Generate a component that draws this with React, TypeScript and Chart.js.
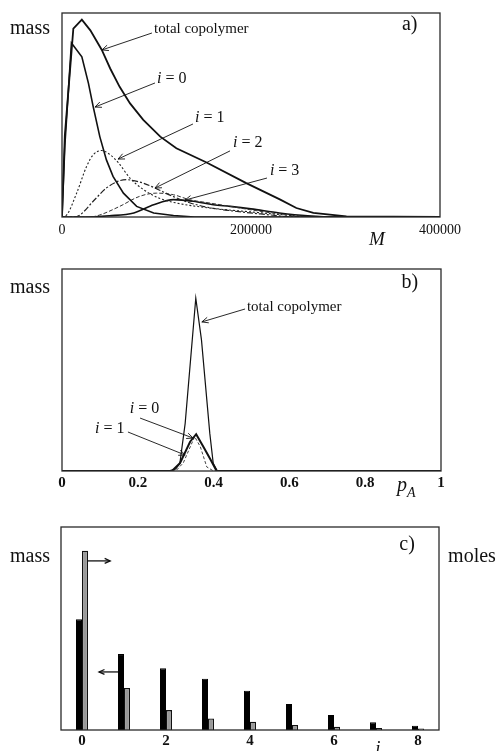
import React, { useEffect, useRef } from 'react';
import { Chart, registerables } from 'chart.js';
Chart.register(...registerables);

const SERIF = '"Liberation Serif", "Times New Roman", "DejaVu Serif", serif';

// ---------- Panel a: mass distribution vs molecular weight M ----------
const aTotalM = [0, 3000, 12000, 21000, 30000, 42000, 51000, 61000, 72000, 86000, 104000, 121000, 153000, 195000, 231000, 248000, 266000, 301000, 400000];
const aTotalMass = [0, 0.4, 0.923, 0.967, 0.915, 0.82, 0.728, 0.638, 0.557, 0.476, 0.394, 0.337, 0.267, 0.166, 0.085, 0.044, 0.02, 0.003, 0];
const aI0M = [0, 3000, 10000, 21000, 28000, 33000, 40000, 47000, 54000, 65000, 79000, 97000, 118000, 140000, 400000];
const aI0Mass = [0, 0.35, 0.853, 0.785, 0.655, 0.541, 0.394, 0.28, 0.199, 0.117, 0.052, 0.02, 0.007, 0, 0];
const aI1M = [0, 5000, 15500, 26000, 33000, 42000, 51000, 60000, 72000, 86000, 104000, 125000, 146000, 175000, 200000, 230000, 260000, 290000, 400000];
const aI1Mass = [0, 0.01, 0.117, 0.248, 0.305, 0.326, 0.305, 0.264, 0.19, 0.135, 0.09, 0.065, 0.05, 0.035, 0.025, 0.012, 0.003, 0, 0];
const aI2M = [0, 12000, 19000, 33000, 47000, 61000, 68000, 76000, 86000, 97000, 118000, 135000, 157000, 180000, 210000, 250000, 400000];
const aI2Mass = [0, 0, 0.01, 0.077, 0.142, 0.178, 0.183, 0.178, 0.166, 0.145, 0.1, 0.07, 0.045, 0.03, 0.015, 0, 0];
const aI3M = [0, 30000, 40000, 61000, 82000, 100000, 118000, 135000, 157000, 178000, 200000, 230000, 260000, 400000];
const aI3Mass = [0, 0, 0.01, 0.052, 0.101, 0.117, 0.109, 0.085, 0.068, 0.052, 0.035, 0.015, 0, 0];
const aI4M = [0, 22000, 50000, 76000, 97000, 118000, 139000, 160000, 178000, 200000, 230000, 260000, 290000, 400000];
const aI4Mass = [0, 0, 0.006, 0.02, 0.06, 0.085, 0.077, 0.06, 0.052, 0.04, 0.02, 0.006, 0, 0];

// ---------- Panel b: mass distribution vs composition pA ----------
const bTotalP = [0, 0.28, 0.3, 0.311, 0.325, 0.353, 0.368, 0.39, 0.399, 0.41, 1];
const bTotalMass = [0, 0, 0.01, 0.038, 0.236, 0.855, 0.649, 0.186, 0.038, 0, 0];
const bI0P = [0, 0.29, 0.311, 0.338, 0.354, 0.373, 0.39, 0.408, 1];
const bI0Mass = [0, 0, 0.038, 0.145, 0.182, 0.12, 0.063, 0, 0];
const bI1P = [0, 0.3, 0.32, 0.35, 0.365, 0.382, 0.4, 1];
const bI1Mass = [0, 0, 0.04, 0.17, 0.12, 0.02, 0, 0];

// ---------- Panel c: mass (black) and moles (grey) per i ----------
const cCategories = ['0', '1', '2', '3', '4', '5', '6', '7', '8'];
const cMass = [0.545, 0.374, 0.304, 0.252, 0.193, 0.128, 0.074, 0.038, 0.021];
const cMoles = [0.883, 0.207, 0.098, 0.057, 0.041, 0.025, 0.016, 0.01, 0.008];
const cShownTicks = ['0', '2', '4', '6', '8'];

type Part = { t: string; it?: boolean; sub?: boolean };
type Note = { parts: Part[]; x: number; y: number; size: number; align?: 'left' | 'center' };
type Outer = { parts: Part[]; ax: 'left' | 'right'; dx: number; ay: 'top' | 'bottom'; dy: number; size: number; align?: 'left' | 'center' };
type Arrow = { x1: number; y1: number; x2: number; y2: number; head?: number; width?: number };

const pts = (xs: number[], ys: number[]) => xs.map((x, i) => ({ x, y: ys[i] }));
const I = (n: string): Part[] => [{ t: 'i', it: true }, { t: ' = ' + n }];

function partFont(p: Part, size: number) {
  const s = p.sub ? Math.round(size * 0.68) : size;
  return `${p.it ? 'italic ' : ''}${s}px ${SERIF}`;
}

function drawParts(ctx: CanvasRenderingContext2D, parts: Part[], x: number, y: number, size: number, align: 'left' | 'center' = 'left') {
  const widths = parts.map((p) => {
    ctx.font = partFont(p, size);
    return ctx.measureText(p.t).width;
  });
  const total = widths.reduce((a, b) => a + b, 0);
  let cx = align === 'center' ? x - total / 2 : x;
  ctx.textAlign = 'left';
  ctx.textBaseline = 'middle';
  parts.forEach((p, i) => {
    ctx.font = partFont(p, size);
    ctx.fillText(p.t, cx, y + (p.sub ? size * 0.35 : 0));
    cx += widths[i];
  });
}

function drawArrow(ctx: CanvasRenderingContext2D, x1: number, y1: number, x2: number, y2: number, head: number, width: number) {
  ctx.lineWidth = width;
  ctx.beginPath();
  ctx.moveTo(x1, y1);
  ctx.lineTo(x2, y2);
  ctx.stroke();
  const ang = Math.atan2(y2 - y1, x2 - x1);
  const spread = 0.42;
  ctx.beginPath();
  ctx.moveTo(x2 - head * Math.cos(ang - spread), y2 - head * Math.sin(ang - spread));
  ctx.lineTo(x2, y2);
  ctx.lineTo(x2 - head * Math.cos(ang + spread), y2 - head * Math.sin(ang + spread));
  ctx.stroke();
}

function notesPlugin(notes: Note[], arrows: Arrow[], outers: Outer[]) {
  return {
    id: 'notes',
    afterDatasetsDraw(chart: any) {
      const { ctx, chartArea } = chart;
      const xs = chart.scales.x;
      const ys = chart.scales.y;
      ctx.save();
      ctx.strokeStyle = '#2a2a2a';
      ctx.lineWidth = 1.3;
      ctx.strokeRect(chartArea.left, chartArea.top, chartArea.right - chartArea.left, chartArea.bottom - chartArea.top);
      ctx.strokeStyle = '#111';
      for (const a of arrows) {
        drawArrow(ctx, xs.getPixelForValue(a.x1), ys.getPixelForValue(a.y1), xs.getPixelForValue(a.x2), ys.getPixelForValue(a.y2), a.head ?? 7, a.width ?? 0.9);
      }
      ctx.fillStyle = '#111';
      for (const n of notes) {
        drawParts(ctx, n.parts, xs.getPixelForValue(n.x), ys.getPixelForValue(n.y), n.size, n.align);
      }
      for (const o of outers) {
        const x = (o.ax === 'left' ? chartArea.left : chartArea.right) + o.dx;
        const y = (o.ay === 'top' ? chartArea.top : chartArea.bottom) + o.dy;
        drawParts(ctx, o.parts, x, y, o.size, o.align);
      }
      ctx.restore();
    },
  };
}

function lineDs(data: any[], width: number, color: string, dash: number[] = [], smooth = true) {
  return {
    data,
    borderColor: color,
    borderWidth: width,
    borderDash: dash,
    pointRadius: 0,
    fill: false,
    cubicInterpolationMode: smooth ? 'monotone' : 'default',
    tension: 0,
  };
}

function xAxisCommon(height: number, pad: number, size: number, bold: boolean) {
  return {
    grid: { display: false, drawTicks: false },
    border: { display: false },
    ticks: { padding: pad, color: '#111', font: { family: SERIF, size, weight: bold ? 'bold' : 'normal' } },
    afterFit: (s: any) => {
      s.height = height;
    },
  };
}

function useChart(ref: React.RefObject<HTMLCanvasElement | null>, make: () => any) {
  useEffect(() => {
    if (!ref.current) return;
    const chart = new Chart(ref.current, make());
    return () => chart.destroy();
  }, []);
}

const common = {
  animation: false,
  responsive: false,
  events: [],
  plugins: { legend: { display: false }, tooltip: { enabled: false } },
};

function PanelA() {
  const ref = useRef<HTMLCanvasElement>(null);
  useChart(ref, () => ({
    type: 'line',
    data: {
      datasets: [
        lineDs(pts(aTotalM, aTotalMass), 1.8, '#111', [], false),
        lineDs(pts(aI0M, aI0Mass), 1.6, '#111', [], false),
        lineDs(pts(aI1M, aI1Mass), 1.1, '#222', [2, 2]),
        lineDs(pts(aI2M, aI2Mass), 1.2, '#222', [6, 2, 2, 2]),
        lineDs(pts(aI3M, aI3Mass), 1, '#333', [4, 2]),
        lineDs(pts(aI4M, aI4Mass), 1.6, '#111'),
      ],
    },
    options: {
      ...common,
      layout: { padding: { left: 62, right: 58, top: 13, bottom: 0 } },
      scales: {
        x: {
          type: 'linear',
          min: 0,
          max: 400000,
          ...xAxisCommon(33, 5, 14, false),
          ticks: { ...xAxisCommon(33, 5, 14, false).ticks, stepSize: 200000, callback: (v: any) => String(v) },
        },
        y: { display: false, min: 0, max: 1 },
      },
    },
    plugins: [
      notesPlugin(
        [
          { parts: [{ t: 'total copolymer' }], x: 97400, y: 0.922, size: 15 },
          { parts: I('0'), x: 100500, y: 0.676, size: 16 },
          { parts: I('1'), x: 140700, y: 0.485, size: 16 },
          { parts: I('2'), x: 181000, y: 0.363, size: 16 },
          { parts: I('3'), x: 220000, y: 0.225, size: 16 },
          { parts: [{ t: 'a)' }], x: 368000, y: 0.94, size: 20, align: 'center' },
        ],
        [
          { x1: 95200, y1: 0.902, x2: 42300, y2: 0.819 },
          { x1: 98400, y1: 0.657, x2: 34900, y2: 0.539 },
          { x1: 138600, y1: 0.456, x2: 59300, y2: 0.284 },
          { x1: 177800, y1: 0.324, x2: 98400, y2: 0.142 },
          { x1: 216900, y1: 0.191, x2: 130200, y2: 0.083 },
        ],
        [
          { parts: [{ t: 'mass' }], ax: 'left', dx: -32, ay: 'top', dy: 16, size: 20, align: 'center' },
          { parts: [{ t: 'M', it: true }], ax: 'left', dx: 315, ay: 'bottom', dy: 23, size: 19, align: 'center' },
        ]
      ),
    ],
  }));
  return <canvas ref={ref} width={498} height={250} style={{ position: 'absolute', left: 0, top: 0, width: 498, height: 250 }} />;
}

function PanelB() {
  const ref = useRef<HTMLCanvasElement>(null);
  useChart(ref, () => ({
    type: 'line',
    data: {
      datasets: [
        lineDs(pts(bTotalP, bTotalMass), 1.2, '#111', [], false),
        lineDs(pts(bI0P, bI0Mass), 2, '#111', [], false),
        lineDs(pts(bI1P, bI1Mass), 1, '#444', [3, 2], false),
      ],
    },
    options: {
      ...common,
      layout: { padding: { left: 62, right: 57, top: 19, bottom: 0 } },
      scales: {
        x: {
          type: 'linear',
          min: 0,
          max: 1,
          ...xAxisCommon(29, 3, 15, true),
          ticks: {
            ...xAxisCommon(29, 3, 15, true).ticks,
            stepSize: 0.2,
            callback: (v: any) => (v === 0 ? '0' : v === 1 ? '1' : Number(v).toFixed(1)),
          },
        },
        y: { display: false, min: 0, max: 1 },
      },
    },
    plugins: [
      notesPlugin(
        [
          { parts: [{ t: 'total copolymer' }], x: 0.488, y: 0.812, size: 15 },
          { parts: I('0'), x: 0.179, y: 0.307, size: 16 },
          { parts: I('1'), x: 0.087, y: 0.208, size: 16 },
          { parts: [{ t: 'b)' }], x: 0.918, y: 0.93, size: 20, align: 'center' },
        ],
        [
          { x1: 0.483, y1: 0.802, x2: 0.369, y2: 0.738 },
          { x1: 0.206, y1: 0.262, x2: 0.346, y2: 0.163 },
          { x1: 0.174, y1: 0.193, x2: 0.325, y2: 0.079 },
        ],
        [
          { parts: [{ t: 'mass' }], ax: 'left', dx: -32, ay: 'top', dy: 19, size: 20, align: 'center' },
          { parts: [{ t: 'p', it: true }, { t: 'A', it: true, sub: true }], ax: 'left', dx: 335, ay: 'bottom', dy: 15, size: 20 },
        ]
      ),
    ],
  }));
  return <canvas ref={ref} width={498} height={250} style={{ position: 'absolute', left: 0, top: 250, width: 498, height: 250 }} />;
}

function PanelC() {
  const ref = useRef<HTMLCanvasElement>(null);
  useChart(ref, () => ({
    type: 'bar',
    data: {
      labels: cCategories,
      datasets: [
        { data: cMass, backgroundColor: '#000', borderColor: '#000', borderWidth: 1, yAxisID: 'y' },
        { data: cMoles, backgroundColor: '#999', borderColor: '#111', borderWidth: 1.3, yAxisID: 'y2' },
      ],
    },
    options: {
      ...common,
      datasets: { bar: { categoryPercentage: 0.286, barPercentage: 1 } },
      layout: { padding: { left: 61, right: 59, top: 27, bottom: 0 } },
      scales: {
        x: {
          type: 'category',
          ...xAxisCommon(21, 2, 15, true),
          ticks: {
            ...xAxisCommon(21, 2, 15, true).ticks,
            autoSkip: false,
            maxRotation: 0,
            callback: (_v: any, i: number) => (cShownTicks.includes(cCategories[i]) ? cCategories[i] : ''),
          },
        },
        y: { display: false, min: 0, max: 1 },
        y2: { display: false, min: 0, max: 1 },
      },
    },
    plugins: [
      notesPlugin(
        [{ parts: [{ t: 'c)' }], x: 7.74, y: 0.911, size: 20, align: 'center' }],
        [
          { x1: 0.14, y1: 0.833, x2: 0.67, y2: 0.833, head: 6, width: 1.3 },
          { x1: 0.857, y1: 0.286, x2: 0.405, y2: 0.286, head: 6, width: 1.3 },
        ],
        [
          { parts: [{ t: 'mass' }], ax: 'left', dx: -31, ay: 'top', dy: 30, size: 20, align: 'center' },
          { parts: [{ t: 'moles' }], ax: 'right', dx: 33, ay: 'top', dy: 30, size: 20, align: 'center' },
          { parts: [{ t: 'i', it: true }], ax: 'left', dx: 317, ay: 'bottom', dy: 19, size: 19, align: 'center' },
        ]
      ),
    ],
  }));
  return <canvas ref={ref} width={498} height={251} style={{ position: 'absolute', left: 0, top: 500, width: 498, height: 251 }} />;
}

export default function App() {
  return (
    <div style={{ position: 'absolute', left: 0, top: 0, width: 498, height: 751, background: '#fff', overflow: 'hidden' }}>
      <PanelA />
      <PanelB />
      <PanelC />
    </div>
  );
}
